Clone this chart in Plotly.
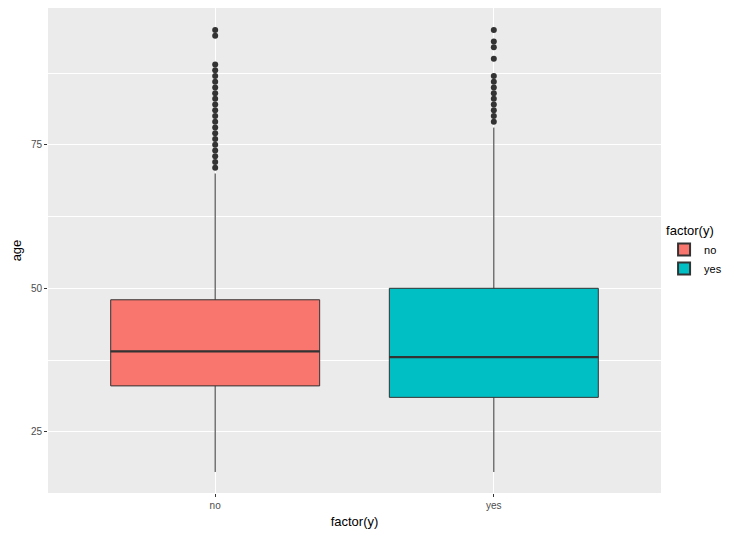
import plotly.graph_objects as go

categories = ["no", "yes"]
q1 = [33, 31]
median = [39, 38]
q3 = [48, 50]
lower_whisker = [18, 18]
upper_whisker = [70, 78]
outliers_no = [71, 72, 73, 74, 75, 76, 77, 78, 79, 80, 81, 82, 83, 84, 85, 86, 87, 88, 89, 94, 95]
outliers_yes = [79, 80, 81, 82, 83, 84, 85, 86, 87, 90, 92, 93, 95]
outliers = [outliers_no, outliers_yes]
fills = ["#F8766D", "#00BFC4"]

FONT = "Liberation Sans, Arial, Helvetica, sans-serif"
fig = go.Figure()

for i, cat in enumerate(categories):
    fig.add_trace(go.Box(
        x=[cat], q1=[q1[i]], median=[median[i]], q3=[q3[i]],
        lowerfence=[lower_whisker[i]], upperfence=[upper_whisker[i]],
        name=cat, fillcolor=fills[i], line=dict(color="#333333", width=1),
        whiskerwidth=0, width=0.75, boxpoints=False, showlegend=True,
        legendgroup=cat, hoverinfo="skip",
    ))
    fig.add_trace(go.Scatter(
        x=[cat] * len(outliers[i]), y=outliers[i], mode="markers",
        marker=dict(color="#333333", size=6), showlegend=False,
        legendgroup=cat, hoverinfo="skip",
    ))

shapes = []
for i, m in enumerate(median):
    shapes.append(dict(type="line", xref="x", yref="y", x0=i - 0.375, x1=i + 0.375,
                       y0=m, y1=m, line=dict(color="#333333", width=2.2), layer="above"))

fig.update_layout(
    width=744, height=529,
    margin=dict(l=40, r=91, t=0, b=44),
    paper_bgcolor="white", plot_bgcolor="#EBEBEB",
    boxmode="overlay",
    shapes=shapes,
    font=dict(family=FONT, color="#000000"),
    legend=dict(
        title=dict(text="factor(y)", font=dict(size=13, color="#000000")),
        font=dict(size=11, color="#000000"),
        x=1.005, xanchor="left", y=0.5, yanchor="middle",
        bgcolor="white", tracegroupgap=0, itemsizing="constant",
    ),
    xaxis=dict(
        type="category", categoryorder="array", categoryarray=categories,
        range=[-0.6, 1.6], showgrid=True, gridcolor="white", gridwidth=1.1,
        zeroline=False, showline=False,
        ticks="outside", ticklen=3, tickcolor="#333333", tickwidth=1,
        tickfont=dict(size=10, color="#4D4D4D", family=FONT),
        title=dict(text="factor(y)", font=dict(size=13, color="#000000"), standoff=6),
    ),
    yaxis=dict(
        range=[14.34, 98.83], tickmode="array", tickvals=[25, 50, 75],
        showgrid=True, gridcolor="white", gridwidth=1.1,
        zeroline=False, showline=False,
        ticks="outside", ticklen=3, tickcolor="#333333", tickwidth=1,
        tickfont=dict(size=10, color="#4D4D4D", family=FONT),
        minor=dict(tickmode="array", tickvals=[37.5, 62.5, 87.5], showgrid=True,
                   gridcolor="white", gridwidth=0.5, ticks=""),
        title=dict(text="age", font=dict(size=13, color="#000000"), standoff=6),
    ),
)

fig.write_html("out.html")
